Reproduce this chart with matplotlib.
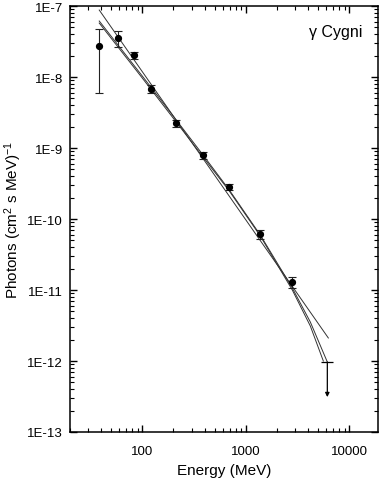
import numpy as np
import matplotlib; matplotlib.use("Agg")
import matplotlib.pyplot as plt
from matplotlib.patches import FancyArrowPatch
from matplotlib.ticker import FuncFormatter, LogLocator, NullFormatter, FixedLocator

plt.rcParams["font.family"] = ["Liberation Sans", "DejaVu Sans"]
plt.rcParams["mathtext.default"] = "regular"

# measured points (MeV, photons cm^-2 s^-1 MeV^-1)
energy = [38.4, 58.6, 83.7, 122, 213, 388, 693, 1381, 2813]
flux = [2.74e-8, 3.54e-8, 2.04e-8, 6.78e-9, 2.25e-9, 7.96e-10, 2.82e-10, 6.15e-11, 1.30e-11]
flux_hi = [4.74e-8, 4.45e-8, 2.25e-8, 7.7e-9, 2.48e-9, 8.8e-10, 3.1e-10, 7.0e-11, 1.52e-11]
flux_lo = [5.96e-9, 2.65e-8, 1.79e-8, 5.96e-9, 1.98e-9, 7.0e-10, 2.56e-10, 5.22e-11, 1.07e-11]

# upper limit in the last bin
ul_energy = 6131
ul_flux = 9.7e-13
ul_arrow_to = 3.1e-13

# fitted spectra
pl_energy = [38.4, 6270]
pl_flux = [8.78e-8, 2.11e-12]
fit_a_energy = [38.4, 100, 213, 380, 693, 1381, 2813, 4201, 6131]
fit_a_flux = [6.15e-8, 1.033e-8, 2.48e-9, 8.23e-10, 2.56e-10, 5.95e-11, 1.067e-11, 3.54e-12, 9.68e-13]
fit_b_energy = [38.4, 100, 213, 380, 693, 1381, 2813, 4201, 5609]
fit_b_flux = [5.76e-8, 9.68e-9, 2.32e-9, 7.71e-10, 2.48e-10, 5.76e-11, 1.0e-11, 3.11e-12, 1.0e-12]

x_ticks = [100, 1000, 10000]
x_ticklabels = ["100", "1000", "10000"]

fig = plt.figure(figsize=(3.82, 4.81), dpi=100)
ax = fig.add_axes([0.183, 0.0998, 0.807, 0.8856])

lc = "#333333"
ax.plot(pl_energy, pl_flux, color=lc, lw=0.7)
ax.plot(fit_a_energy, fit_a_flux, color=lc, lw=0.7)
ax.plot(fit_b_energy, fit_b_flux, color=lc, lw=0.7)

f = np.array(flux)
yerr = [f - np.array(flux_lo), np.array(flux_hi) - f]
ax.errorbar(energy, flux, yerr=yerr, fmt="o", color="black", ms=4.2,
            ecolor="#222222", elinewidth=0.8, capsize=3, capthick=0.8)

ax.plot([ul_energy], [ul_flux], marker="_", ms=9, mew=0.9, color="black")
ax.add_patch(FancyArrowPatch((ul_energy, ul_flux), (ul_energy, ul_arrow_to),
                             arrowstyle="-|>", color="black", lw=0.9,
                             mutation_scale=6, shrinkA=0, shrinkB=0))

ax.set_xscale("log"); ax.set_yscale("log")
ax.set_xlim(20, 19000); ax.set_ylim(1e-13, 1e-7)
ax.xaxis.set_major_locator(FixedLocator(x_ticks))
ax.set_xticklabels(x_ticklabels)
ax.xaxis.set_minor_locator(LogLocator(base=10, subs=np.arange(2, 10), numticks=20))
ax.xaxis.set_minor_formatter(NullFormatter())
ax.yaxis.set_major_locator(LogLocator(base=10, numticks=10))
ax.yaxis.set_major_formatter(FuncFormatter(lambda v, p: f"1E{int(round(np.log10(v)))}"))
ax.yaxis.set_minor_formatter(NullFormatter())
ax.tick_params(which="both", direction="in", top=True, right=True, labelsize=9.5)
ax.tick_params(axis="x", pad=9.5)
ax.tick_params(axis="y", pad=5)
ax.tick_params(which="major", length=5, width=1)
ax.tick_params(which="minor", length=3, width=0.8)
for s in ax.spines.values():
    s.set_linewidth(1.1)

ax.set_xlabel("Energy (MeV)", fontsize=11, labelpad=4)
ax.set_ylabel(r"Photons (cm$^{2}$ s MeV)$^{-1}$", fontsize=11, labelpad=2)
ax.text(0.948, 0.941, "\u03b3 Cygni", transform=ax.transAxes, ha="right", va="center", fontsize=11.5)

fig.savefig("out.png", dpi=100)
